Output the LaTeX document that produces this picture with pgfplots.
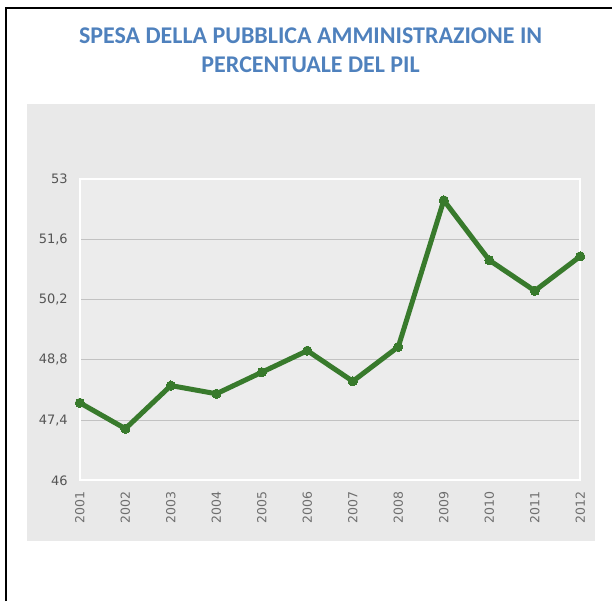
\documentclass[border=0pt]{standalone}
\usepackage{pgfplots}
\pgfplotsset{compat=1.18}
\usepackage{fontspec}
\setmainfont{Carlito}
\newfontfamily\dv{DejaVu Sans}
\definecolor{ttl}{HTML}{4F81BD}
\definecolor{panel}{HTML}{E9E9E9}
\definecolor{plotbg}{HTML}{ECECEC}
\definecolor{lg}{HTML}{387A2C}
\definecolor{gridc}{HTML}{C2C2C2}
\definecolor{lblc}{HTML}{555555}
\begin{document}
\begin{tikzpicture}[x=1pt,y=1pt]
\path (0,0) rectangle (613,602);
\fill[panel] (27,60) rectangle (596,498);
\draw[black, line width=1.6pt] (6,0) -- (6,594) -- (613,594);
\node[font=\bfseries\fontsize{24}{28}\selectfont, text=ttl, inner sep=0pt] at (311,566.5) {SPESA DELLA PUBBLICA AMMINISTRAZIONE IN};
\node[font=\bfseries\fontsize{24}{28}\selectfont, text=ttl, inner sep=0pt] at (311,537.5) {PERCENTUALE DEL PIL};
\begin{axis}[
  at={(80pt,121pt)}, anchor=south west,
  scale only axis, width=501pt, height=302pt,
  xmin=0, xmax=11, ymin=46, ymax=53,
  axis background/.style={fill=plotbg},
  axis line style={white, line width=2pt},
  ytick={47.4,48.8,50.2,51.6},
  extra y ticks={46,53},
  extra y tick style={grid=none},
  extra y tick labels={46,53},
  yticklabels={{47,4},{48,8},{50,2},{51,6}},
  xtick={0,...,11},
  xticklabels={2001,2002,2003,2004,2005,2006,2007,2008,2009,2010,2011,2012},
  major tick length=0pt,
  ymajorgrids,
  grid style={color=gridc, line width=1pt},
  y tick label style={font=\dv\fontsize{13}{13}\selectfont, text=lblc, anchor=east, inner sep=0pt, xshift=-12pt},
  x tick label style={font=\dv\fontsize{12.5}{12.5}\selectfont, text=lblc!85, rotate=90, anchor=east, inner sep=0pt, xshift=-11pt},
  clip=false,
]
\addplot[lg, line width=5pt, line join=round, mark=*, mark size=4.6pt, mark options={fill=lg, draw=lg, line width=0pt}] coordinates {
(0,47.80) (1,47.20) (2,48.20) (3,48.01) (4,48.51) (5,49.01)
(6,48.30) (7,49.10) (8,52.50) (9,51.11) (10,50.40) (11,51.20)
};
\end{axis}
\end{tikzpicture}
\end{document}
